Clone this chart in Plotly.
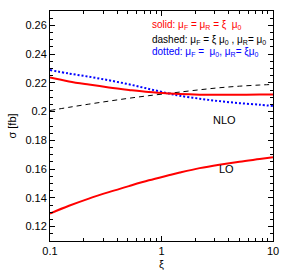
import plotly.graph_objects as go

xi = [0.1, 0.148, 0.223, 0.337, 0.51, 0.77, 1.16, 1.46, 2.2, 3.3, 5, 7.6, 10]
nlo_solid = [0.2237, 0.2210, 0.2188, 0.2168, 0.2151, 0.2136, 0.2126, 0.2122, 0.2118, 0.2117, 0.2117, 0.2119, 0.2120]
nlo_dashed = [0.2008, 0.2030, 0.2052, 0.2073, 0.2093, 0.2111, 0.2127, 0.2136, 0.2152, 0.2166, 0.2177, 0.2185, 0.2189]
nlo_dotted = [0.2289, 0.2265, 0.2243, 0.2218, 0.2190, 0.2158, 0.2126, 0.2110, 0.2090, 0.2073, 0.2059, 0.2048, 0.2039]
lo_solid = [0.1291, 0.1345, 0.1395, 0.1440, 0.1482, 0.1522, 0.1557, 0.1576, 0.1607, 0.1631, 0.1652, 0.1670, 0.1682]

y_ticks = [0.12, 0.14, 0.16, 0.18, 0.2, 0.22, 0.24, 0.26]
y_tick_labels = ["0.12", "0.14", "0.16", "0.18", "0.2", "0.22", "0.24", "0.26"]
x_ticks = [0.1, 1, 10]
x_tick_labels = ["0.1", "1", "10"]

FONT = "Liberation Sans, Arial, sans-serif"

fig = go.Figure()
fig.add_trace(go.Scatter(x=xi, y=nlo_dashed, mode="lines", line=dict(color="black", width=1, dash="5px,4px", shape="spline")))
fig.add_trace(go.Scatter(x=xi, y=nlo_dotted, mode="lines", line=dict(color="blue", width=2, dash="2px,2px", shape="spline")))
fig.add_trace(go.Scatter(x=xi, y=nlo_solid, mode="lines", line=dict(color="red", width=2, shape="spline")))
fig.add_trace(go.Scatter(x=xi, y=lo_solid, mode="lines", line=dict(color="red", width=2, shape="spline")))

axis_common = dict(showgrid=False, zeroline=False, showline=True, linecolor="black", linewidth=1,
                   mirror="allticks", ticks="inside", tickcolor="black", tickfont=dict(family=FONT, size=11, color="black"))

fig.update_xaxes(type="log", range=[-1, 1], tickvals=x_ticks, ticktext=x_tick_labels, ticklen=5,
                 minor=dict(ticks="inside", ticklen=3, tickcolor="black",
                            tickvals=[0.2, 0.3, 0.4, 0.5, 0.6, 0.7, 0.8, 0.9, 2, 3, 4, 5, 6, 7, 8, 9]),
                 title=dict(text="ξ", font=dict(family=FONT, size=11, color="black"), standoff=4), **axis_common)
fig.update_yaxes(range=[0.11, 0.27], tickvals=y_ticks, ticktext=y_tick_labels, ticklen=5,
                 minor=dict(ticks="inside", ticklen=3, tickcolor="black", dtick=0.005),
                 title=dict(text="σ [fb]", font=dict(family=FONT, size=11, color="black"), standoff=6), **axis_common)

ann = [
    dict(x=150, y=25, text="solid: μ<sub>F</sub> = μ<sub>R</sub> = ξ  μ<sub>0</sub>", color="red"),
    dict(x=150, y=40, text="dashed: μ<sub>F</sub> = ξ μ<sub>0</sub> , μ<sub>R</sub>= μ<sub>0</sub>", color="black"),
    dict(x=150, y=53, text="dotted: μ<sub>F</sub> =  μ<sub>0</sub>, μ<sub>R</sub>= ξμ<sub>0</sub>", color="blue"),
]
for a in ann:
    fig.add_annotation(x=(a["x"] - 50) / 224, y=1 - (a["y"] - 10) / 239, xref="paper", yref="paper",
                       xanchor="left", yanchor="middle", showarrow=False, text=a["text"],
                       font=dict(family=FONT, size=10, color=a["color"]))

fig.add_annotation(x=(239 - 50) / 224, y=1 - (123 - 10) / 239, xref="paper", yref="paper", showarrow=False,
                   text="NLO", font=dict(family=FONT, size=11, color="black"))
fig.add_annotation(x=(237 - 50) / 224, y=1 - (182 - 10) / 239, xref="paper", yref="paper", showarrow=False,
                   text="LO", font=dict(family=FONT, size=11, color="black"))

fig.update_layout(width=289, height=279, margin=dict(l=50, r=15, t=10, b=30), showlegend=False,
                  plot_bgcolor="white", paper_bgcolor="white")

fig.write_html("out.html", config={"displayModeBar": False},
               post_script="document.body.style.margin='0';document.body.style.overflow='hidden';")
